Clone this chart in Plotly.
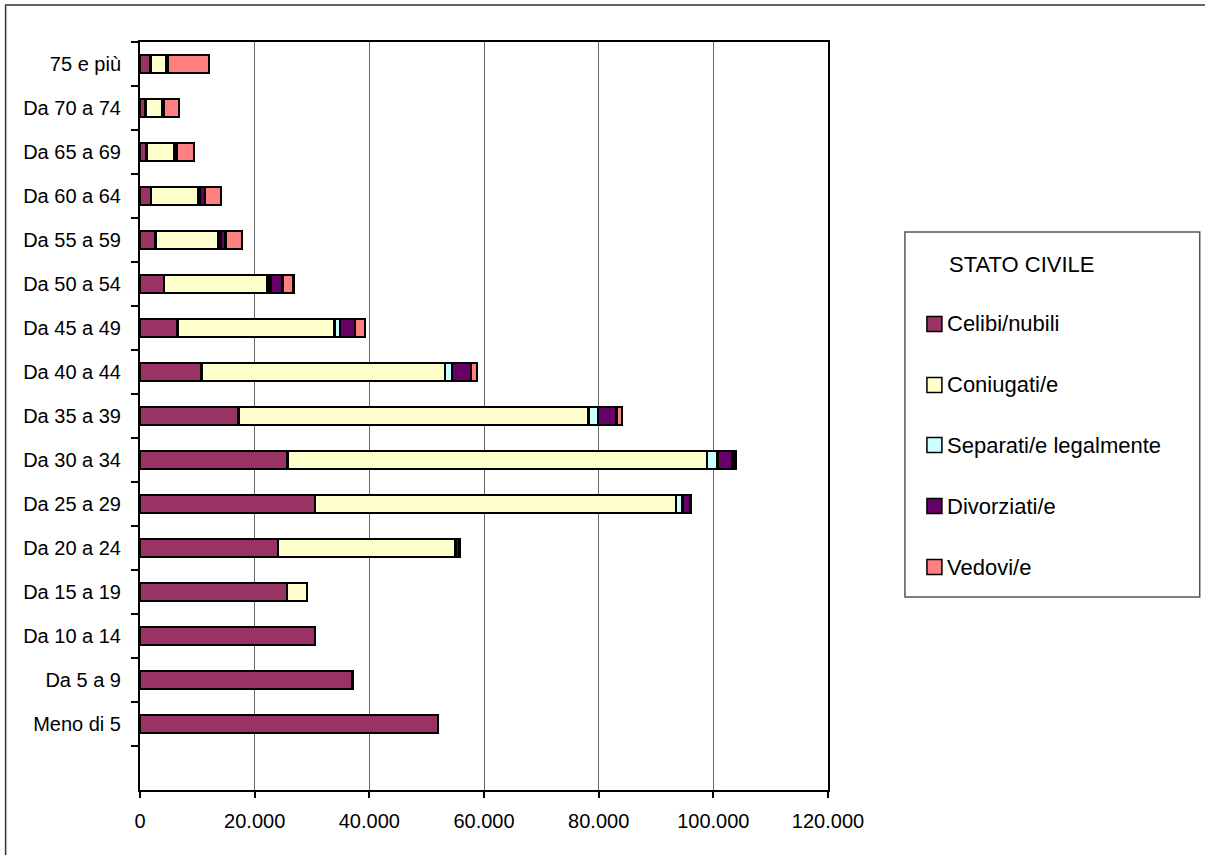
import plotly.graph_objects as go

# ---- data -------------------------------------------------------------
categories = ["Meno di 5", "Da 5 a 9", "Da 10 a 14", "Da 15 a 19", "Da 20 a 24",
              "Da 25 a 29", "Da 30 a 34", "Da 35 a 39", "Da 40 a 44", "Da 45 a 49",
              "Da 50 a 54", "Da 55 a 59", "Da 60 a 64", "Da 65 a 69", "Da 70 a 74",
              "75 e più"]

celibi = [52000, 37100, 30500, 25600, 24100, 30500, 25700, 17200, 10700, 6500,
          4200, 2700, 1900, 1100, 1000, 1800]
coniugati = [0, 0, 0, 3500, 30900, 63000, 73200, 61000, 42500, 27400,
             18000, 11000, 8300, 4900, 2800, 2800]
separati = [0, 0, 0, 0, 100, 1100, 1800, 1700, 1200, 1000,
            550, 400, 200, 100, 100, 50]
divorziati = [0, 0, 0, 0, 500, 1400, 2600, 3200, 3300, 2600,
              2100, 800, 900, 300, 200, 200]
vedovi = [0, 0, 0, 0, 100, 100, 600, 1000, 1100, 1700,
          1900, 2900, 2800, 3000, 2700, 7200]

series_names = ["Celibi/nubili", "Coniugati/e", "Separati/e legalmente",
                "Divorziati/e", "Vedovi/e"]
series_values = [celibi, coniugati, separati, divorziati, vedovi]
series_colors = ["#993366", "#FFFFCC", "#CCFFFF", "#660066", "#FF8080"]

x_ticks = [0, 20000, 40000, 60000, 80000, 100000, 120000]
legend_title = "STATO CIVILE"

# ---- geometry helpers (pixel -> paper) --------------------------------
W, H = 1205, 855
PX0, PX1 = 139.5, 828.0   # plot area left/right in pixels
PY0, PY1 = 42.0, 790.0    # plot area top/bottom in pixels


def px(x):
    return (x - PX0) / (PX1 - PX0)


def py(y):
    return (PY1 - y) / (PY1 - PY0)


FONT = "Arial, Liberation Sans, sans-serif"

fig = go.Figure()
for name, vals, col in zip(series_names, series_values, series_colors):
    fig.add_trace(go.Bar(
        y=categories, x=vals, name=name, orientation="h",
        marker=dict(color=col, line=dict(color="black", width=2.5)),
        showlegend=False,
    ))

shapes = []
annotations = []

# outer frame
shapes.append(dict(type="rect", xref="paper", yref="paper",
                   x0=px(5), x1=px(1230), y0=py(5), y1=py(880),
                   line=dict(color="#333333", width=1.5), layer="below"))

# legend box
shapes.append(dict(type="rect", xref="paper", yref="paper",
                   x0=px(905), x1=px(1200), y0=py(232), y1=py(597),
                   line=dict(color="#555555", width=1.5),
                   fillcolor="white"))
annotations.append(dict(xref="paper", yref="paper", x=px(947), y=py(264),
                        xanchor="left", yanchor="middle", showarrow=False,
                        text=legend_title,
                        font=dict(family=FONT, size=22, color="black")))
item_y = [324, 385, 445, 506, 567]
for name, col, yy in zip(series_names, series_colors, item_y):
    shapes.append(dict(type="rect", xref="paper", yref="paper",
                       x0=px(927), x1=px(942), y0=py(yy - 7.5), y1=py(yy + 7.5),
                       line=dict(color="black", width=1.5), fillcolor=col))
    annotations.append(dict(xref="paper", yref="paper", x=px(945), y=py(yy),
                            xanchor="left", yanchor="middle", showarrow=False,
                            text=name,
                            font=dict(family=FONT, size=22, color="black")))

fig.update_layout(
    width=W, height=H,
    margin=dict(l=PX0, r=W - PX1, t=PY0, b=H - PY1, pad=0),
    paper_bgcolor="white", plot_bgcolor="white",
    barmode="stack", bargap=0.6,
    separators=",.",
    font=dict(family=FONT, size=20, color="black"),
    shapes=shapes, annotations=annotations,
    xaxis=dict(range=[0, 120000], tickvals=x_ticks, tickformat=",d",
               showgrid=True, gridcolor="#666666", gridwidth=1,
               showline=True, linecolor="black", linewidth=2, mirror=True,
               ticks="outside", ticklen=6, tickwidth=1.5, tickcolor="black",
               ticklabelstandoff=6,
               zeroline=False, tickfont=dict(size=20)),
    yaxis=dict(type="category", categoryorder="array", categoryarray=categories,
               range=[-1.5, 15.5], tickson="boundaries",
               showgrid=False, showline=True, linecolor="black", linewidth=2,
               mirror=True, ticks="outside", ticklen=7, tickwidth=1.5,
               tickcolor="black", ticklabelstandoff=13, tickfont=dict(size=20)),
)

fig.write_html("out.html", config={"displayModeBar": False},
               post_script="document.body.style.margin='0';")
